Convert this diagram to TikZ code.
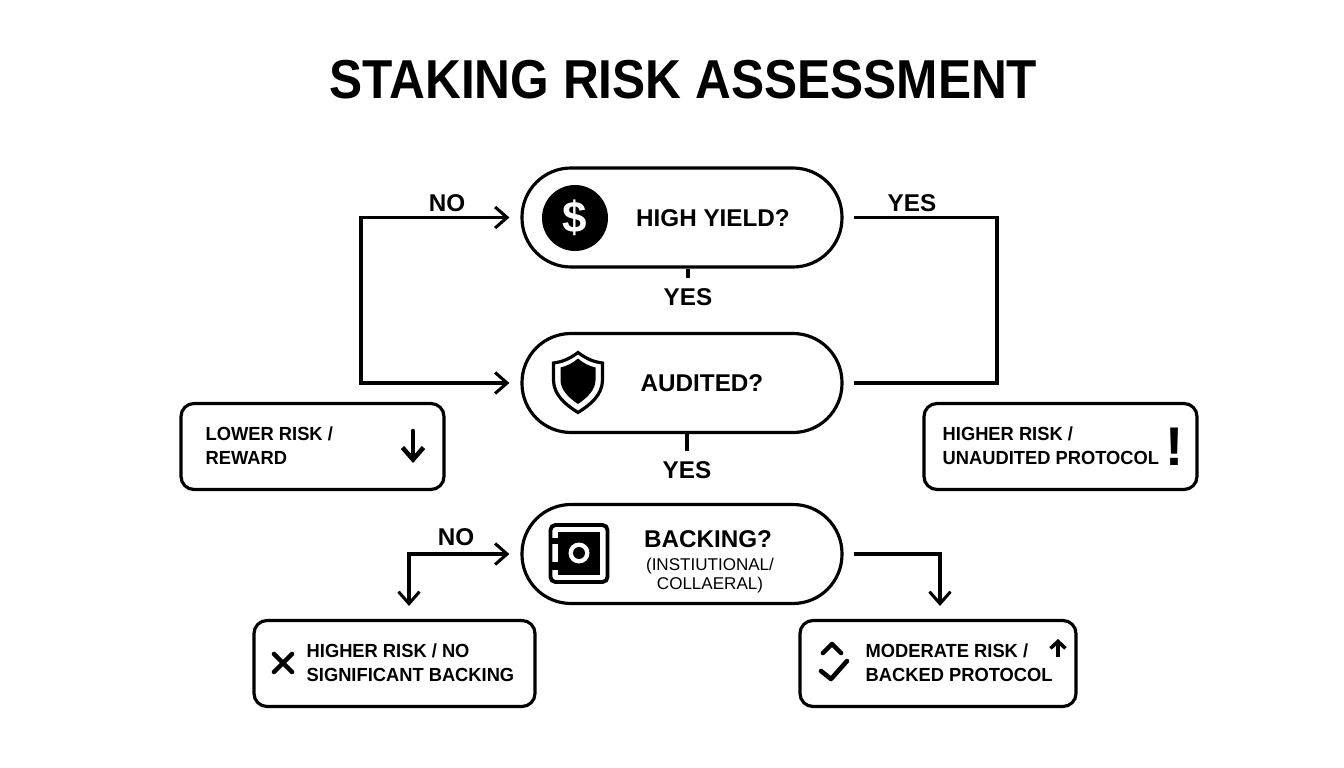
\documentclass[tikz,border=0pt]{standalone}
\usepackage{fontspec}
\setmainfont{Liberation Sans}
\newfontfamily\titlefont[FakeStretch=0.905]{Liberation Sans}
\newfontfamily\riskfont[FakeStretch=0.965]{Liberation Sans}
\usetikzlibrary{arrows.meta}
\tikzset{
    >={Straight Barb[length=1.2mm,width=2.1mm]},
    pill/.style={draw,line width=0.9pt,rounded corners=4.9mm,minimum width=3.2cm,minimum height=0.99cm},
    riskbox/.style={draw,line width=0.9pt,rounded corners=1.3mm,minimum height=0.86cm},
    flow/.style={line width=0.87pt},
    glyph/.style={line width=1.3pt,line cap=round,line join=round},
    asktext/.style={font=\fontsize{6.9pt}{8pt}\selectfont\bfseries},
    smalltext/.style={font=\fontsize{4.85pt}{5.4pt}\selectfont},
    risktext/.style={font=\riskfont\fontsize{5.4pt}{6.8pt}\selectfont\bfseries,anchor=west,align=left,inner sep=0pt},
}
\begin{document}
\begin{tikzpicture}
                    \useasboundingbox (0, 0) rectangle (13.44, -7.68);
                    \node[font=\titlefont\fontsize{15.6pt}{18pt}\selectfont\bfseries] (title) at (6.835, -0.8) {STAKING RISK ASSESSMENT};

                    \node[pill] (high) at (6.82, -2.175) {};
                    \node[pill] (audited) at (6.82, -3.83) {};
                    \node[pill] (backing) at (6.82, -5.54) {};
                    \node[asktext] (hightext) at (7.13, -2.18) {HIGH YIELD?};
                    \node[asktext] (auditedtext) at (7.02, -3.83) {AUDITED?};
                    \node[asktext] (backingtext) at (7.08, -5.39) {BACKING?};
                    \node[smalltext,align=center] (backingnote) at (7.1, -5.76) {(INSTIUTIONAL/\\COLLAERAL)};

                    \node[riskbox,minimum width=2.63cm] (lower) at (3.125, -4.465) {};
                    \node[riskbox,minimum width=2.73cm] (unaudited) at (10.605, -4.465) {};
                    \node[riskbox,minimum width=2.81cm] (nobacking) at (3.945, -6.635) {};
                    \node[riskbox,minimum width=2.76cm] (moderate) at (9.38, -6.635) {};
                    \node[risktext] (lowertext) at (2.05, -4.46) {LOWER RISK /\\REWARD};
                    \node[risktext] (unauditedtext) at (9.42, -4.46) {HIGHER RISK /\\UNAUDITED PROTOCOL};
                    \node[risktext] (nobackingtext) at (3.06, -6.63) {HIGHER RISK / NO\\SIGNIFICANT BACKING};
                    \node[risktext] (moderatetext) at (8.65, -6.63) {MODERATE RISK /\\BACKED PROTOCOL};

                    \node[asktext] (no1) at (4.47, -2.03) {NO};
                    \node[asktext] (yes1) at (9.12, -2.03) {YES};
                    \node[asktext,inner sep=2.9pt] (yes2) at (6.88, -2.97) {YES};
                    \node[asktext,inner sep=2.9pt] (yes3) at (6.87, -4.7) {YES};
                    \node[asktext] (no2) at (4.56, -5.37) {NO};

                    \coordinate (leftbus) at (3.61, -3);
                    \coordinate (rightbus) at (9.97, -3);
                    \coordinate (noend) at (4.09, -6.2);
                    \coordinate (modend) at (9.4, -6.2);

                    \draw[flow,<->,shorten <=1.1mm,shorten >=1.1mm] (high.west) -| (leftbus) |- (audited.west);
                    \draw[flow,shorten <=1mm,shorten >=1mm] (high.east) -| (rightbus) |- (audited.east);
                    \draw[flow] (yes2.north |- high.south) -- (yes2.north);
                    \draw[flow] (yes3.north |- audited.south) -- (yes3.north);
                    \draw[flow,<->,shorten <=1.1mm,shorten >=1.4mm] (backing.west) -| (noend);
                    \draw[flow,->,shorten <=1mm,shorten >=1.4mm] (backing.east) -| (modend);

                    % icons
                    \node[circle,fill=black,minimum size=0.66cm,inner sep=0pt] (dollar) at (5.75, -2.18) {};
                    \node[text=white,font=\fontsize{12.5pt}{14pt}\selectfont\bfseries] (dollartext) at (dollar) {\$};

                    \draw[line width=0.9pt,line join=miter] (5.78, -3.525) .. controls (5.88, -3.6) and (5.95, -3.62) .. (6.025, -3.63) -- (6.025, -3.8) .. controls (6.025, -3.95) and (5.9, -4.05) .. (5.78, -4.125) .. controls (5.66, -4.05) and (5.535, -3.95) .. (5.535, -3.8) -- (5.535, -3.63) .. controls (5.61, -3.62) and (5.68, -3.6) .. (5.78, -3.525) -- cycle;
                    \fill (5.78, -3.585) .. controls (5.83, -3.63) and (5.89, -3.66) .. (5.955, -3.675) -- (5.955, -3.8) .. controls (5.955, -3.9) and (5.87, -3.98) .. (5.78, -4.04) .. controls (5.69, -3.98) and (5.605, -3.9) .. (5.605, -3.8) -- (5.605, -3.675) .. controls (5.67, -3.66) and (5.73, -3.63) .. (5.78, -3.585) -- cycle;

                    \draw[line width=1.1pt,rounded corners=0.5mm] (5.505, -5.25) rectangle (6.075, -5.82);
                    \fill (5.58, -5.32) rectangle (6, -5.75);
                    \fill (5.52, -5.38) rectangle (5.6, -5.44);
                    \fill (5.52, -5.62) rectangle (5.6, -5.7);
                    \fill[white] (5.79, -5.53) circle (0.105);
                    \fill (5.79, -5.53) circle (0.06);

                    \draw[glyph,->] (4.13, -4.31) -- (4.13, -4.63);
                    \node[font=\fontsize{15.5pt}{16pt}\selectfont\bfseries] (bang) at (11.75, -4.47) {!};
                    \draw[glyph] (2.74, -6.54) -- (2.92, -6.72);
                    \draw[glyph] (2.92, -6.54) -- (2.74, -6.72);
                    \draw[glyph] (8.23, -6.53) -- (8.32, -6.44) -- (8.41, -6.53);
                    \draw[glyph] (8.21, -6.71) -- (8.31, -6.79) -- (8.47, -6.61);
                    \draw[line width=1pt,-{Straight Barb[length=0.7mm,width=1.5mm]}] (10.58, -6.57) -- (10.58, -6.39);
                \end{tikzpicture}
\end{document}
